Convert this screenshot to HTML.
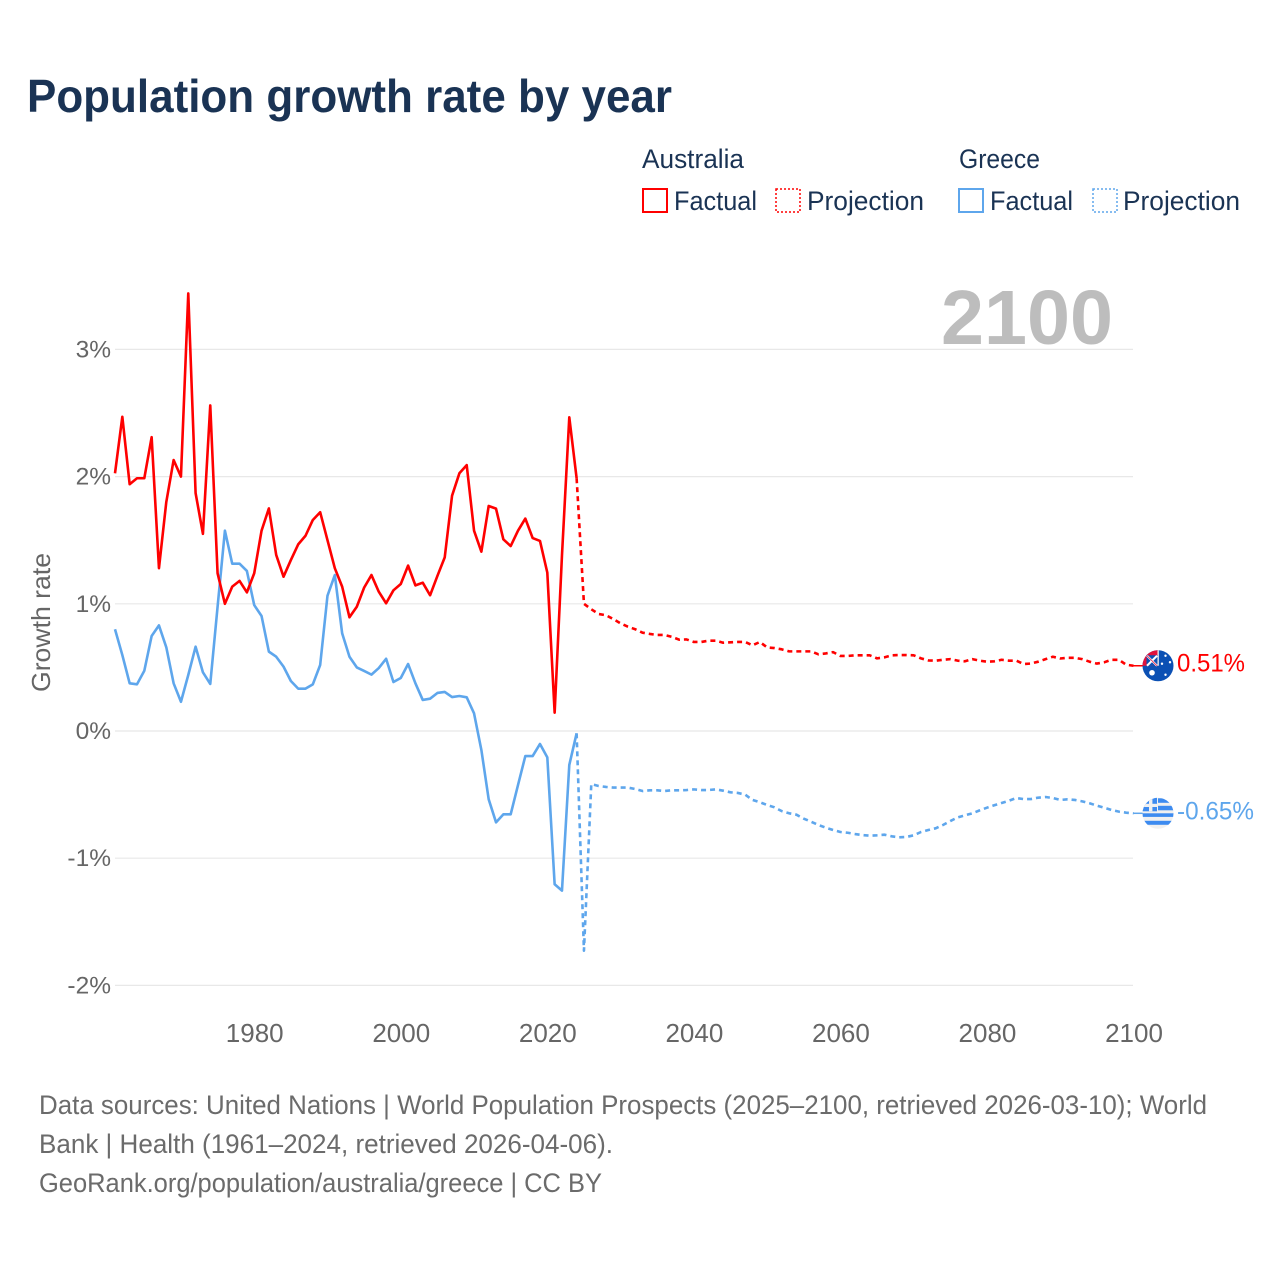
<!DOCTYPE html>
<html lang="en">
<head>
<meta charset="utf-8">
<title>Population growth rate by year</title>
<style>
html,body{margin:0;padding:0;background:#fff;width:1280px;height:1280px;overflow:hidden}
svg{display:block}
text{font-family:"Liberation Sans",sans-serif}
</style>
</head>
<body>
<svg id="chart" xmlns="http://www.w3.org/2000/svg" width="1280" height="1280" viewBox="0 0 1280 1280">
  <defs>
    <clipPath id="clip-au"><circle cx="0" cy="0" r="15.5"/></clipPath>
    <clipPath id="clip-gr"><circle cx="0" cy="0" r="15.5"/></clipPath>
  </defs>
  <rect width="1280" height="1280" fill="#fff"/>
  <text x="27" y="112" font-size="46" font-weight="700" fill="#1a3354" textLength="645" lengthAdjust="spacingAndGlyphs">Population growth rate by year</text>

  <g font-size="27" fill="#1a3354">
    <text x="642" y="168" textLength="102" lengthAdjust="spacingAndGlyphs">Australia</text>
    <text x="959" y="168" textLength="81" lengthAdjust="spacingAndGlyphs">Greece</text>
    <rect x="643" y="189" width="24" height="23" fill="none" stroke="#ff0000" stroke-width="2"/>
    <text x="674" y="210" textLength="83" lengthAdjust="spacingAndGlyphs">Factual</text>
    <rect x="776" y="189" width="24" height="23" fill="none" stroke="#ff0000" stroke-width="1.5" stroke-dasharray="2 2"/>
    <text x="807" y="210" textLength="117" lengthAdjust="spacingAndGlyphs">Projection</text>
    <rect x="959" y="189" width="24" height="23" fill="none" stroke="#5ea6ec" stroke-width="2"/>
    <text x="990" y="210" textLength="83" lengthAdjust="spacingAndGlyphs">Factual</text>
    <rect x="1093" y="189" width="24" height="23" fill="none" stroke="#5ea6ec" stroke-width="1.5" stroke-dasharray="2 2"/>
    <text x="1123" y="210" textLength="117" lengthAdjust="spacingAndGlyphs">Projection</text>
  </g>

  <g id="grid"></g>
  <text x="941" y="344" font-size="77" font-weight="700" fill="#bdbdbd" textLength="172" lengthAdjust="spacingAndGlyphs">2100</text>
  <g id="yticks"></g>
  <g id="xticks"></g>
  <text transform="translate(50,622.5) rotate(-90)" text-anchor="middle" font-size="26" fill="#666666" textLength="139" lengthAdjust="spacingAndGlyphs">Growth rate</text>
  <g id="series"></g>
  <g id="ends"></g>

  <g font-size="27" fill="#6b6b6b">
    <text x="39" y="1114" textLength="1168" lengthAdjust="spacingAndGlyphs">Data sources: United Nations | World Population Prospects (2025–2100, retrieved 2026-03-10); World</text>
    <text x="39" y="1153" textLength="574" lengthAdjust="spacingAndGlyphs">Bank | Health (1961–2024, retrieved 2026-04-06).</text>
    <text x="39" y="1192" textLength="563" lengthAdjust="spacingAndGlyphs">GeoRank.org/population/australia/greece | CC BY</text>
  </g>
</svg>
<script>
const yTickValues = [3, 2, 1, 0, -1, -2];
const yTickLabels = ["3%", "2%", "1%", "0%", "-1%", "-2%"];
const xTickValues = [1980, 2000, 2020, 2040, 2060, 2080, 2100];
const xTickLabels = ["1980", "2000", "2020", "2040", "2060", "2080", "2100"];
const factualStartYear = 1961;
const projectionStartYear = 2025;
const australiaFactual = [2.026,2.47,1.94,1.987,1.987,2.31,1.28,1.80,2.13,2.00,3.44,1.87,1.55,2.56,1.24,1.00,1.135,1.18,1.09,1.24,1.575,1.75,1.384,1.213,1.344,1.467,1.535,1.659,1.72,1.50,1.28,1.135,0.894,0.977,1.127,1.226,1.095,1.004,1.106,1.156,1.30,1.145,1.166,1.067,1.219,1.365,1.85,2.026,2.09,1.575,1.41,1.769,1.748,1.507,1.454,1.575,1.67,1.517,1.494,1.245,0.144,1.38,2.466,1.987];
const australiaProjection = [1.0,0.957,0.92,0.91,0.88,0.846,0.82,0.80,0.773,0.763,0.755,0.755,0.74,0.718,0.72,0.70,0.70,0.71,0.71,0.694,0.697,0.70,0.70,0.673,0.70,0.657,0.652,0.642,0.626,0.626,0.626,0.626,0.603,0.61,0.62,0.59,0.59,0.595,0.595,0.595,0.571,0.579,0.595,0.597,0.597,0.595,0.571,0.555,0.553,0.56,0.565,0.553,0.548,0.565,0.553,0.545,0.548,0.56,0.553,0.553,0.527,0.53,0.545,0.565,0.584,0.57,0.575,0.575,0.565,0.545,0.53,0.54,0.56,0.56,0.521,0.513];
const greeceFactual = [0.80,0.597,0.375,0.367,0.474,0.747,0.83,0.658,0.375,0.23,0.44,0.663,0.461,0.37,0.977,1.575,1.315,1.315,1.258,0.99,0.904,0.624,0.584,0.506,0.393,0.333,0.333,0.367,0.519,1.064,1.226,0.768,0.584,0.50,0.472,0.443,0.495,0.568,0.385,0.417,0.527,0.375,0.244,0.254,0.299,0.307,0.267,0.275,0.265,0.139,-0.149,-0.537,-0.718,-0.655,-0.655,-0.425,-0.197,-0.197,-0.102,-0.207,-1.205,-1.255,-0.267,-0.018];
const greeceProjection = [-1.727,-0.417,-0.432,-0.44,-0.445,-0.445,-0.445,-0.456,-0.472,-0.466,-0.466,-0.472,-0.466,-0.466,-0.464,-0.459,-0.464,-0.464,-0.459,-0.469,-0.482,-0.487,-0.50,-0.542,-0.56,-0.582,-0.60,-0.63,-0.647,-0.658,-0.689,-0.713,-0.739,-0.76,-0.778,-0.794,-0.80,-0.81,-0.818,-0.823,-0.82,-0.815,-0.828,-0.836,-0.833,-0.82,-0.794,-0.778,-0.765,-0.739,-0.708,-0.679,-0.663,-0.647,-0.624,-0.603,-0.584,-0.566,-0.548,-0.527,-0.535,-0.535,-0.524,-0.519,-0.527,-0.542,-0.537,-0.542,-0.553,-0.568,-0.587,-0.603,-0.621,-0.634,-0.642,-0.647];
const endLabelAustralia = "0.51%";
const endLabelGreece = "-0.65%";

const NS = "http://www.w3.org/2000/svg";
const RED = "#ff0000";
const BLUE = "#5ea6ec";
function xScale(year) { return 115 + (year - 1961) * (1133.5 - 115) / 139; }
function yScale(v) { return 731 - v * 127.2; }
function make(tag, parentId) {
  const el = document.createElementNS(NS, tag);
  document.getElementById(parentId).appendChild(el);
  return el;
}
function linePath(startYear, values, prefix) {
  let d = prefix || "";
  values.forEach(function (v, i) {
    d += (d ? " L" : "M") + xScale(startYear + i).toFixed(2) + " " + yScale(v).toFixed(2);
  });
  return d;
}

yTickValues.forEach(function (v, i) {
  const line = make("line", "grid");
  
  
  line.setAttribute("x1", 115);
  line.setAttribute("x2", 1133);
  line.setAttribute("y1", yScale(v));
  line.setAttribute("y2", yScale(v));
  line.setAttribute("stroke", "#e8e8e8");
  line.setAttribute("stroke-width", "1.2");
  const t = make("text", "yticks");
  
  
  t.setAttribute("x", 111);
  t.setAttribute("y", yScale(v) + 8);
  t.setAttribute("text-anchor", "end");
  t.setAttribute("font-size", "24.5");
  t.setAttribute("fill", "#666666");
  t.textContent = yTickLabels[i];
});

xTickValues.forEach(function (yr, i) {
  const t = make("text", "xticks");
  
  
  t.setAttribute("x", xScale(yr) + 0.5);
  t.setAttribute("y", 1042);
  t.setAttribute("text-anchor", "middle");
  t.setAttribute("font-size", "26");
  t.setAttribute("fill", "#666666");
  t.textContent = xTickLabels[i];
});

function drawLine(d, color, dashed, name) {
  const p = make("path", "series");
  
  
  p.setAttribute("d", d);
  p.setAttribute("fill", "none");
  p.setAttribute("stroke", color);
  p.setAttribute("stroke-width", "2.6");
  p.setAttribute("stroke-linejoin", "round");
  if (dashed) p.setAttribute("stroke-dasharray", "5 4");
}

function projectionPath(factual, projection) {
  const lastYear = factualStartYear + factual.length - 1;
  const start = "M" + xScale(lastYear).toFixed(2) + " " + yScale(factual[factual.length - 1]).toFixed(2);
  return linePath(projectionStartYear, projection, start);
}

drawLine(linePath(factualStartYear, greeceFactual), BLUE, false, "greece-factual-line");
drawLine(projectionPath(greeceFactual, greeceProjection), BLUE, true, "greece-projection-line");
drawLine(linePath(factualStartYear, australiaFactual), RED, false, "australia-factual-line");
drawLine(projectionPath(australiaFactual, australiaProjection), RED, true, "australia-projection-line");

function drawLeader(v, color, name) {
  const l = make("line", "ends");
  
  
  l.setAttribute("x1", xScale(2100));
  l.setAttribute("x2", 1146);
  l.setAttribute("y1", yScale(v));
  l.setAttribute("y2", yScale(v));
  l.setAttribute("stroke", color);
  l.setAttribute("stroke-width", "1.5");
}
function drawEndLabel(v, text, color, width, name) {
  const t = make("text", "ends");
  
  
  t.setAttribute("x", 1177);
  t.setAttribute("y", yScale(v) + 6);
  t.setAttribute("font-size", "25");
  t.setAttribute("fill", color);
  t.setAttribute("textLength", width);
  t.setAttribute("lengthAdjust", "spacingAndGlyphs");
  t.textContent = text;
}
function shape(group, tag, attrs) {
  const el = document.createElementNS(NS, tag);
  Object.keys(attrs).forEach(function (k) { el.setAttribute(k, attrs[k]); });
  group.appendChild(el);
  return el;
}

const lastAu = australiaProjection[australiaProjection.length - 1];
const lastGr = greeceProjection[greeceProjection.length - 1];
drawLeader(lastAu, RED, "australia-end-leader");
drawLeader(lastGr, BLUE, "greece-end-leader");

const flagAu = make("g", "ends");


flagAu.setAttribute("transform", "translate(1158," + yScale(lastAu) + ")");
flagAu.setAttribute("clip-path", "url(#clip-au)");
shape(flagAu, "rect", {x:-16, y:-16, width:32, height:32, fill:"#0b50b4"});
shape(flagAu, "rect", {x:-16, y:-16, width:16, height:16, fill:"#e0123c"});
shape(flagAu, "rect", {x:-11.5, y:-10.5, width:11.5, height:10.5, fill:"#0b50b4"});
shape(flagAu, "path", {d:"M-11 -10 L-1 0 M-1 -10 L-11 0", stroke:"#ffffff", "stroke-width":"2", fill:"none"});
shape(flagAu, "path", {d:"M-11 -10 L-1 0", stroke:"#e0123c", "stroke-width":"0.8", fill:"none"});
shape(flagAu, "rect", {x:-0.5, y:-16, width:1.3, height:16, fill:"#f4f4f4"});
shape(flagAu, "circle", {cx:-6, cy:7, r:2.8, fill:"#ffffff"});
shape(flagAu, "circle", {cx:7.5, cy:-10, r:1.2, fill:"#ffffff"});
shape(flagAu, "circle", {cx:4, cy:-2, r:1.2, fill:"#ffffff"});
shape(flagAu, "circle", {cx:12, cy:-3.5, r:1.2, fill:"#ffffff"});
shape(flagAu, "circle", {cx:7.5, cy:9, r:1.2, fill:"#ffffff"});

const flagGr = make("g", "ends");


flagGr.setAttribute("transform", "translate(1158," + yScale(lastGr) + ")");
flagGr.setAttribute("clip-path", "url(#clip-gr)");
shape(flagGr, "rect", {x:-16, y:-16, width:32, height:32, fill:"#f0f0f0"});
shape(flagGr, "rect", {x:0, y:-15, width:16, height:4.5, fill:"#3d8bf0"});
shape(flagGr, "rect", {x:0, y:-7.5, width:16, height:4.5, fill:"#3d8bf0"});
shape(flagGr, "rect", {x:-16, y:0, width:32, height:3.6, fill:"#3d8bf0"});
shape(flagGr, "rect", {x:-16, y:7.5, width:32, height:4, fill:"#3d8bf0"});
shape(flagGr, "rect", {x:-16, y:-16, width:15, height:14, fill:"#3d8bf0"});
shape(flagGr, "rect", {x:-9, y:-16, width:3.4, height:14, fill:"#f0f0f0"});
shape(flagGr, "rect", {x:-16, y:-9.5, width:15, height:3.2, fill:"#f0f0f0"});

drawEndLabel(lastAu, endLabelAustralia, RED, 68, "australia-end-value");
drawEndLabel(lastGr, endLabelGreece, BLUE, 77, "greece-end-value");
</script>
</body>
</html>
